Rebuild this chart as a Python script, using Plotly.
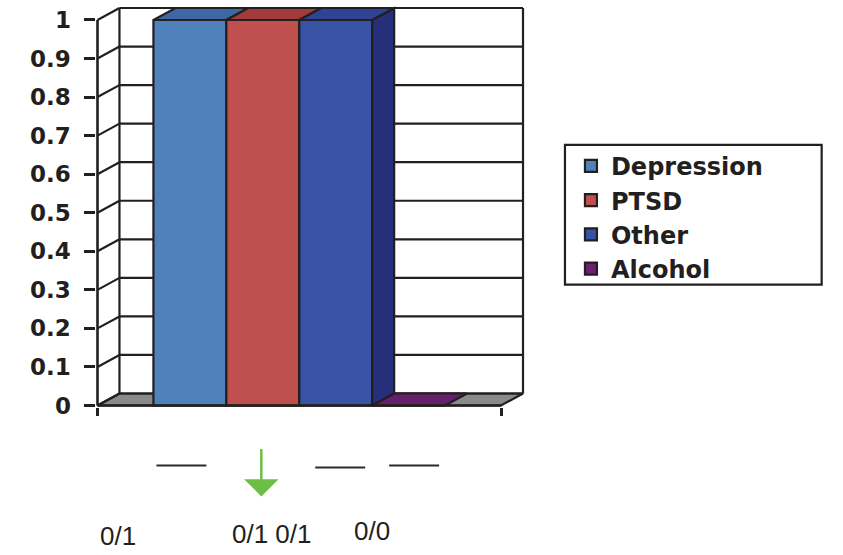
import plotly.graph_objects as go

# ---------------- data ----------------
series = ["Depression", "PTSD", "Other", "Alcohol"]
values = [1, 1, 1, 0]
y_ticks = [0, 0.1, 0.2, 0.3, 0.4, 0.5, 0.6, 0.7, 0.8, 0.9, 1]
y_tick_labels = ["0", "0.1", "0.2", "0.3", "0.4", "0.5", "0.6", "0.7", "0.8", "0.9", "1"]
cat_edges = [0, 1]
bottom_labels = ["0/1", "0/1 0/1", "0/0"]

# ---------------- style ----------------
front_colors = ["#4F81BD", "#C0504D", "#3953A4", "#6B2070"]
top_colors = ["#3E68A3", "#A23B39", "#2E4394", "#64206A"]
side_colors = ["#34578F", "#8A2F2D", "#272F7A", "#4A1550"]
floor_color = "#898A8C"
edge = "#231F20"
EW = 2.2

# pixel geometry -> axis units
PX_X, PX_Y = 404.0, 386.0          # px per axis unit
ORX, ORY = 97.0, 406.0             # pixel position of (0, 0)
PAD = 1.5
RIGHT_PX, TOP_PX = 530.0, 4.0
DX, DY = 22.0 / PX_X, 12.0 / PX_Y  # depth offset
GAP = 56.0 / PX_X
W = (1 - 2 * GAP) / len(series)

plot_left, plot_right = ORX - PAD, RIGHT_PX
plot_top, plot_bottom = TOP_PX, ORY + PAD


def pxx(x):
    return (x - plot_left) / (plot_right - plot_left)


def pxy(y):
    return (plot_bottom - y) / (plot_bottom - plot_top)


fig = go.Figure()

shapes = []
line = dict(color=edge, width=EW)
ymax = max(y_ticks)
# floor
shapes.append(dict(type="path", xref="x", yref="y", layer="below",
                   path=f"M0,0 L{cat_edges[1]},0 L{cat_edges[1]+DX},{DY} L{DX},{DY} Z",
                   fillcolor=floor_color, line=line))
# back wall grid + left wall diagonals
for t in y_ticks:
    shapes.append(dict(type="line", xref="x", yref="y", layer="below",
                       x0=DX, x1=cat_edges[1] + DX, y0=t + DY, y1=t + DY, line=line))
    shapes.append(dict(type="line", xref="x", yref="y", layer="below",
                       x0=0, x1=DX, y0=t, y1=t + DY, line=line))
shapes.append(dict(type="line", xref="x", yref="y", layer="below",
                   x0=DX, x1=DX, y0=DY, y1=ymax + DY, line=line))
shapes.append(dict(type="line", xref="x", yref="y", layer="below",
                   x0=cat_edges[1] + DX, x1=cat_edges[1] + DX, y0=DY, y1=ymax + DY, line=line))
# front axes
shapes.append(dict(type="line", xref="x", yref="y", layer="above",
                   x0=0, x1=0, y0=0, y1=ymax, line=dict(color=edge, width=2.6)))
shapes.append(dict(type="line", xref="x", yref="y", layer="above",
                   x0=0, x1=cat_edges[1], y0=0, y1=0, line=dict(color=edge, width=2.6)))

# bars
for i, (name, v) in enumerate(zip(series, values)):
    x0 = GAP + i * W
    fig.add_trace(go.Bar(x=[x0 + W / 2], y=[v], width=[W], name=name,
                         marker=dict(color=front_colors[i], line=dict(color=edge, width=EW)),
                         legendgroup=name, hoverinfo="skip"))
for i, (name, v) in enumerate(zip(series, values)):
    x0 = GAP + i * W
    x1 = x0 + W
    nxt = values[i + 1] if i + 1 < len(values) else 0
    if v > nxt:
        lo = nxt
        fig.add_trace(go.Scatter(
            x=[x1, x1, x1 + DX, x1 + DX, x1], y=[lo, v, v + DY, lo + DY, lo],
            mode="lines", fill="toself", fillcolor=side_colors[i],
            line=dict(color=edge, width=EW), showlegend=False, hoverinfo="skip"))
    fig.add_trace(go.Scatter(
        x=[x0, x1, x1 + DX, x0 + DX, x0], y=[v, v, v + DY, v + DY, v],
        mode="lines", fill="toself", fillcolor=top_colors[i],
        line=dict(color=edge, width=EW), showlegend=False, hoverinfo="skip"))

# legend frame
shapes.append(dict(type="rect", xref="paper", yref="paper",
                   x0=pxx(565), x1=pxx(822), y0=pxy(285), y1=pxy(145),
                   fillcolor="rgba(0,0,0,0)", line=dict(color=edge, width=2.2)))

# decorations under the chart
for (a, b, yy) in [(156, 206, 466), (315, 365, 468), (389, 439, 466)]:
    shapes.append(dict(type="line", xref="paper", yref="paper",
                       x0=pxx(a), x1=pxx(b), y0=pxy(yy), y1=pxy(yy),
                       line=dict(color="#2b2b2b", width=2)))

annotations = []
# y tick labels (placed on the y scale)
for t, lab in zip(y_ticks, y_tick_labels):
    annotations.append(dict(text=lab, x=pxx(72), y=t, xref="paper", yref="y",
                            showarrow=False, xanchor="right", yanchor="middle",
                            font=dict(family="DejaVu Sans", size=23, color=edge, weight="bold")))
for lab, (cx, cy) in zip(bottom_labels, [(118, 537), (272, 535), (372, 532)]):
    annotations.append(dict(text=lab, x=pxx(cx), y=pxy(cy), xref="paper", yref="paper",
                            showarrow=False, xanchor="center", yanchor="middle",
                            font=dict(family="Liberation Sans, Arial", size=26, color=edge)))
annotations.append(dict(text="", x=pxx(261), y=pxy(497), xref="paper", yref="paper",
                        showarrow=True, ax=0, ay=-49, arrowhead=1, arrowsize=2.3,
                        arrowwidth=2.5, arrowcolor="#6CBE45"))

fig.update_layout(
    width=843, height=555, autosize=False,
    margin=dict(l=plot_left, r=843 - plot_right, t=plot_top, b=555 - plot_bottom, pad=0),
    paper_bgcolor="white", plot_bgcolor="rgba(0,0,0,0)",
    barmode="overlay",
    shapes=shapes, annotations=annotations,
    xaxis=dict(range=[-PAD / PX_X, (RIGHT_PX - ORX) / PX_X], showgrid=False, zeroline=False,
               showline=False, tickvals=cat_edges, showticklabels=False, ticks="outside",
               ticklen=8, tickwidth=2.6, tickcolor=edge, fixedrange=True, automargin=False),
    yaxis=dict(range=[-PAD / PX_Y, (ORY - TOP_PX) / PX_Y], showgrid=False, zeroline=False,
               showline=False, tickvals=y_ticks, showticklabels=False, ticks="outside",
               ticklen=11, tickwidth=2.6, tickcolor=edge, fixedrange=True, automargin=False),
    legend=dict(x=pxx(571), y=pxy(144), xanchor="left", yanchor="top",
                bgcolor="rgba(0,0,0,0)", borderwidth=0,
                font=dict(family="DejaVu Sans", size=24, color=edge, weight="bold"),
                traceorder="normal", tracegroupgap=5),
    showlegend=True,
)

fig.write_html("out.html", config={"displayModeBar": False},
               post_script="document.body.style.margin='0';")
